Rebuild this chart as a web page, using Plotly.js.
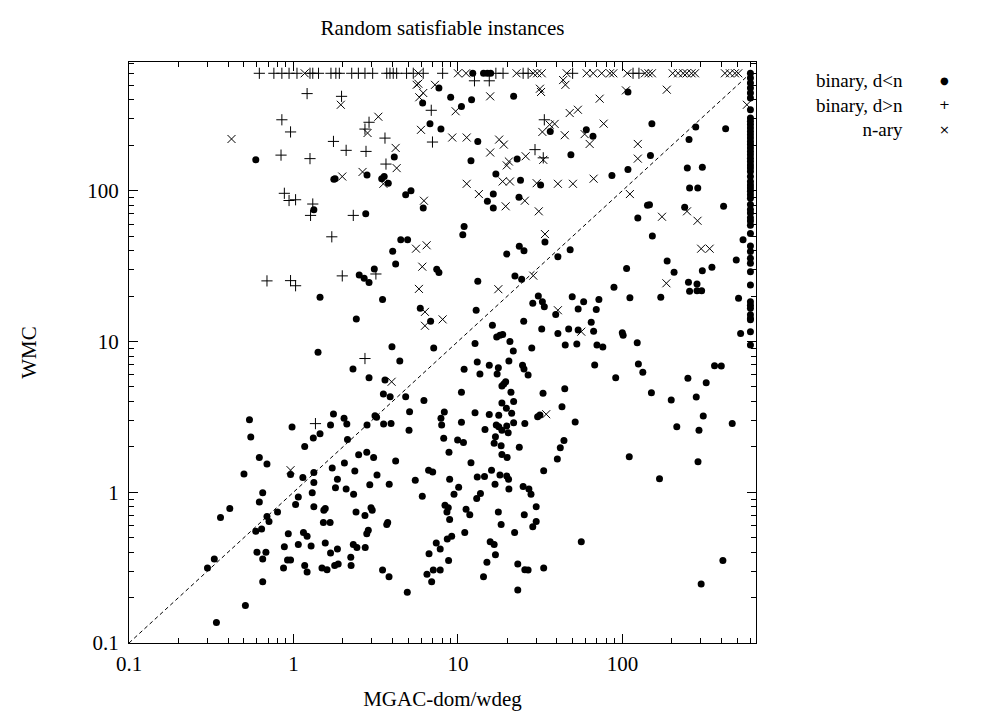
<!DOCTYPE html>
<html><head><meta charset="utf-8">
<script src="https://cdn.plot.ly/plotly-3.0.1.min.js"></script>
<style>html,body{margin:0;padding:0;background:#fff}</style>
</head><body><div id="chart" style="width:986px;height:722px"></div>
<script>
// binary, d<n  (filled circles)
const ltX = [0.59,1.76,1.33,1.41,1.45,0.54,0.55,0.98,1.68,1.75,1.45,1.32,1.17,0.62,0.69,0.50,0.96,1.14,1.33,1.72,1.85,1.33,1.80,0.65,1.30,1.07,0.62,1.03,1.33,0.41,1.53,1.56,0.36,0.69,0.71,0.80,1.52,1.67,0.59,0.64,0.93,1.15,1.21,0.88,1.07,1.28,1.56,1.85,0.60,0.68,1.68,0.33,0.65,0.92,0.96,0.30,0.87,1.17,1.21,1.49,1.60,1.78,1.87,0.65,0.51,0.34,
7.66,6.10,9.03,12.1,10.5,21.8,6.76,7.88,13.2,4.10,12.0,22.9,1.79,2.80,3.44,3.56,3.77,17.0,24.0,31.8,4.81,5.18,16.4,15.1,16.4,23.5,6.15,2.75,10.9,10.7,33.8,4.49,4.94,4.01,19.8,23.6,25.2,
12.3,14.3,15.1,15.8,
108,60.3,66.2,36.4,151,279,424,254,48.6,148,248,306,108,86.3,256,287,146,142,239,412,124,152,541,48.1,
600,600,600,600,600,600,600,600,600,600,600,600,600,600,600,600,600,600,600,600,600,600,600,600,600,600,600,600,600,600,600,600,600,600,600,600,600,600,600,600,600,600,600,600,600,600,600,600,600,600,600,600,
492,508,523,40.5,106,187,206,306,350,252,284,256,284,303,88.8,49.5,58.1,71.9,111,171,39.3,53.8,69.3,64.6,40.5,47.1,53.8,66.8,99.8,101,123,44.9,52.8,70,76,67.8,125,133,91,363,399,250,323,150,198,281,32.9,44.6,42.9,51.6,310,214,292,465,44.1,41.9,
40.2,33.2,110,288,168,56.2,33.2,408,301,
4.18,3.10,2.51,2.69,2.88,7.43,7.66,13.2,22.2,24.4,3.48,5.90,6.82,12.9,2.41,30.8,32.6,33.5,28.5,25.1,16.2,32.3,17.2,18.0,18.7,20.7,12.7,21.7,28.1,3.97,7.12,4.43,13.1,15.5,17.6,20.4,24.7,25.2,26.7,2.30,2.88,3.60,10.9,13.6,17.3,18.5,19.0,19.5,3.52,3.87,4.81,6.21,10.5,21.0,18.5,21.8,19.7,2.03,2.11,2.80,3.13,3.2,3.53,3.92,5.08,5.04,8.26,7.88,7.96,10.5,12.7,15.5,17.7,21.2,30.5,31.5,25.5,17.1,17.7,18.5,19.8,20.2,21.8,14.6,16.9,16.6,18.3,2.13,8.19,9.95,10.8,23.6,
2.49,2.79,3.07,2.04,4.18,2.36,3.22,2.09,2.32,2.91,3.82,5.5,6.63,7.02,8.82,8.9,10.1,9.46,6.07,12.0,16.0,18.5,19.9,13.1,14.5,18.0,19.8,20.3,16.8,20.4,24.9,27.0,27.8,13.7,13.0,8.34,8.73,8.57,8.9,11.2,11.8,11.0,2.40,2.72,2.96,3.01,3.69,3.74,2.79,2.85,17.6,18.3,29.9,25.3,29.9,28.5,22.1,2.31,2.43,2.73,2.23,2.24,3.48,3.81,4.92,8.61,9.16,7.38,7.80,6.67,8.77,7.08,7.80,6.48,6.92,15.7,16.6,16.9,15.0,14.3,23.1,25.5,26.7,23.1];
const ltY = [160,119,74.6,8.47,19.6,3.02,2.32,2.71,2.79,3.30,2.44,2.29,2.01,1.70,1.54,1.32,1.31,1.25,1.35,1.45,1.22,1.16,1.07,0.99,0.99,0.93,0.86,0.83,0.80,0.78,0.76,0.78,0.68,0.69,0.64,0.74,0.63,0.63,0.55,0.57,0.53,0.54,0.51,0.435,0.45,0.44,0.46,0.42,0.40,0.40,0.395,0.36,0.36,0.355,0.355,0.314,0.314,0.326,0.296,0.314,0.306,0.326,0.334,0.255,0.177,0.137,
479,381,416,401,362,422,278,256,212,167,158,162,120,127,120,124,112,129,117,109,94,99.8,94.9,84.9,76.7,90.4,76.7,70.3,57.9,51,45.6,47.2,47.2,39.6,38,42.7,39.9,
600,600,600,600,
451,253,229,247,278,264,257,218,173,171,141,143,138,126,104,104,80.7,80,77.5,78.7,65.8,50,47.2,40.5,
600,558,517,479,444,411,344,303,288,274,260,247,235,223,212,202,192,182,173,164,156,148,141,134,124,115,109,104,99,94,89,81,75,71,66,63,59,52,43,39.4,35.6,33,29,23.7,18.3,17.4,16.6,15.0,14.2,13.9,11.6,9.46,
34.7,19.3,11.3,36.5,30.5,34.1,28.7,29.4,31,24.7,24,21.5,21.7,21.7,22.9,19.8,18.3,19,19.5,19.6,15.1,16.4,16.3,13.4,11.3,12.1,11.9,11.7,11.4,11.0,9.8,9.46,9.6,9.46,9.2,6.98,7.08,6.24,5.74,6.9,6.87,5.69,5.32,4.57,4.09,4.28,4.53,4.86,3.69,2.92,3.20,2.72,2.58,2.86,2.20,1.97,
1.66,1.39,1.72,1.59,1.23,0.47,0.314,0.353,0.246,
32.6,30.2,27.6,26.2,24.6,30.1,28.6,25.1,27.2,25.8,19,16.6,13.6,16.1,14.1,20,18.3,17,17.9,13.6,12.8,12.1,10.7,11.0,11.1,10.0,9.7,8.63,9.04,9.23,9.04,7.41,7.3,6.95,6.7,7.41,6.95,6.56,5.98,6.56,5.74,5.55,6.53,6.08,6.08,5.06,5.22,5.41,4.48,4.30,4.30,4.05,4.6,4.6,3.90,4.0,3.6,3.09,2.83,2.79,3.21,3.14,2.83,2.86,3.42,2.58,3.40,3.09,2.79,2.91,3.37,3.27,3.24,3.34,3.17,3.25,2.85,2.79,2.72,2.58,2.75,2.48,2.89,2.61,2.33,2.11,2.03,2.24,2.28,2.22,2.14,1.99,
1.77,1.84,1.70,1.56,1.61,1.38,1.30,1.05,0.97,1.12,1.13,1.20,1.40,1.36,1.84,1.22,1.08,0.97,0.94,1.57,1.40,1.78,1.70,1.26,1.27,1.30,1.28,1.22,1.13,1.05,1.09,1.05,0.97,0.98,0.91,0.82,0.79,0.74,0.66,0.77,0.71,0.54,0.74,0.70,0.79,0.76,0.61,0.63,0.53,0.56,0.74,0.61,0.80,0.71,0.64,0.59,0.54,0.45,0.43,0.43,0.37,0.326,0.305,0.275,0.217,0.49,0.51,0.46,0.42,0.39,0.353,0.305,0.305,0.286,0.255,0.47,0.45,0.385,0.343,0.275,0.334,0.306,0.305,0.225];

// binary, d>n  (plus)
const gtX = [0.62,0.76,0.85,0.94,1.05,1.26,1.31,1.42,1.69,1.81,1.90,2.26,2.48,2.72,3.03,3.69,3.86,4.04,4.24,4.87,5.35,6.15,8.07,17.0,18.8,24.9,26.7,49.8,116,126,
1.21,0.85,0.96,1.75,0.84,1.26,0.88,0.94,1.03,1.31,1.27,1.71,0.69,0.96,1.03,1.36,1.96,2.88,2.72,3.6,6.88,7.0,33.5,29.4,33,2.09,2.76,3.65,2.31,1.98,3.17,2.72,12.6,15.5];
const gtY = [600,600,600,600,600,600,600,600,600,600,600,600,600,600,600,600,600,600,600,600,600,600,600,600,600,600,600,600,600,600,
440,295,245,212,172,163,96,86,87,81.5,68.5,49.4,25.2,25.3,23.4,2.85,422,284,256,223,341,210,295,187,165,185,182,150,68.5,27.2,28,7.7,535,535];

// n-ary  (x)
const naX = [1.17,5.74,10.0,11.2,22.7,28.7,30.3,32.3,45.8,60.6,66.4,74.8,84,88,107,137,144,151,202,218,234,246,263,276,420,450,483,506,
5.74,43.6,45,31.5,186,571,1.94,0.42,5.61,7.25,6.15,5.82,9.68,15.7,32,3.28,2.82,5.96,9.23,11.3,17.8,19.0,32.6,33,4.18,4.24,15.7,20.4,19.8,25.8,1.98,2.63,3.52,18.7,20.7,11.3,30.1,13.4,19.5,25.5,6.21,31,33.8,5.56,6.45,105,72.7,47.8,53.6,36.1,38.7,76.9,44.6,58.9,63.2,124,124,66.8,40.5,50,111,247,174,286,301,339,185,40.5,56.2,34.4,6.07,17.6,28.7,5.79,6.3,6.3,8.07,3.95,0.96];
const naY = [600,600,600,600,600,600,600,600,600,600,600,600,600,600,600,600,600,600,600,600,600,600,600,600,600,600,600,600,
512,541,503,474,467,371,371,220,503,503,444,416,336,422,451,309,241,253,225,225,218,202,245,160,192,141,179,156,147,169,124,133,111,115,115,111,112,94.9,78.7,85.7,85.7,72.9,51.5,41.2,43.4,462,407,327,344,274,277,278,233,237,204,204,163,120,111,111,94.9,72.9,67.1,63.1,41.2,41.2,24.3,16.1,11.6,3.29,31.3,22.2,27.3,22.3,15.7,12.7,14.0,5.4,1.40];

// reference line y = x
const diag = [0.1, 600];

const tickVals = [0.1, 1, 10, 100];
const tickText = ['0.1', '1', '10', '100'];

const seriesNames = ['binary, d<n', 'binary, d>n', 'n-ary'];
const seriesGlyphs = ['\u25CF', '+', '\u00D7'];

const FONT = 'Liberation Serif, Times New Roman, serif';
const FS = 21;
const KEY_FS = 19;

const traces = [
  {x: ltX, y: ltY, type: 'scatter', mode: 'markers', name: seriesNames[0],
   marker: {symbol: 'circle', size: 7, color: '#000'}},
  {x: gtX, y: gtY, type: 'scatter', mode: 'markers', name: seriesNames[1],
   marker: {symbol: 'cross-thin', size: 8, color: '#000', line: {color: '#000', width: 1}}},
  {x: naX, y: naY, type: 'scatter', mode: 'markers', name: seriesNames[2],
   marker: {symbol: 'x-thin', size: 8, color: '#000', line: {color: '#000', width: 1}}},
  {x: diag, y: diag, type: 'scatter', mode: 'lines', showlegend: false, hoverinfo: 'skip',
   line: {color: '#000', width: 1, dash: '4px,3px'}}
];

const axisCommon = {
  type: 'log', showgrid: false, zeroline: false,
  showline: true, linecolor: '#000', linewidth: 1, mirror: 'allticks',
  ticks: 'inside', ticklen: 9, tickwidth: 1, tickcolor: '#000',
  tickmode: 'array', tickvals: tickVals, ticktext: tickText,
  minor: {ticks: 'inside', ticklen: 5, tickwidth: 1, tickcolor: '#000', dtick: 'D1', showgrid: false},
  tickfont: {family: FONT, size: FS, color: '#000'}
};

// gnuplot-style key: right-justified labels (one text block), sample symbol to the right of each row
const rowGap = KEY_FS * 1.3 / 581;
const keyMid = 0.926;
const annotations = [{
  text: seriesNames.join('<br>'), xref: 'paper', yref: 'paper', x: 1.2376, y: keyMid,
  xanchor: 'right', yanchor: 'middle', align: 'right', showarrow: false,
  font: {family: FONT, size: KEY_FS, color: '#000'}
}];
seriesGlyphs.forEach((g, i) => {
  annotations.push({text: g, xref: 'paper', yref: 'paper', x: 1.3014, y: keyMid + (1 - i) * rowGap,
    xanchor: 'center', yanchor: 'middle', showarrow: false,
    font: {family: 'DejaVu Sans', size: i === 0 ? 10 : 13, color: '#000'}});
});

const layout = {
  width: 986, height: 722,
  margin: {l: 129, r: 230, t: 62, b: 79},
  paper_bgcolor: '#fff', plot_bgcolor: '#fff',
  font: {family: FONT, size: FS, color: '#000'},
  title: {text: 'Random satisfiable instances', font: {family: FONT, size: FS, color: '#000'},
          x: 0.5, xref: 'paper', xanchor: 'center', y: 0.962, yref: 'container', yanchor: 'middle'},
  xaxis: Object.assign({}, axisCommon, {range: [-1, 2.812], ticklabelstandoff: 2,
          title: {text: 'MGAC-dom/wdeg', font: {family: FONT, size: FS, color: '#000'}, standoff: 16}}),
  yaxis: Object.assign({}, axisCommon, {range: [-1, 2.853], ticklabelstandoff: 5,
          title: {text: 'WMC', font: {family: FONT, size: FS, color: '#000'}, standoff: 44}}),
  showlegend: false,
  annotations: annotations
};

Plotly.newPlot('chart', traces, layout, {staticPlot: true, displayModeBar: false});
</script></body></html>
